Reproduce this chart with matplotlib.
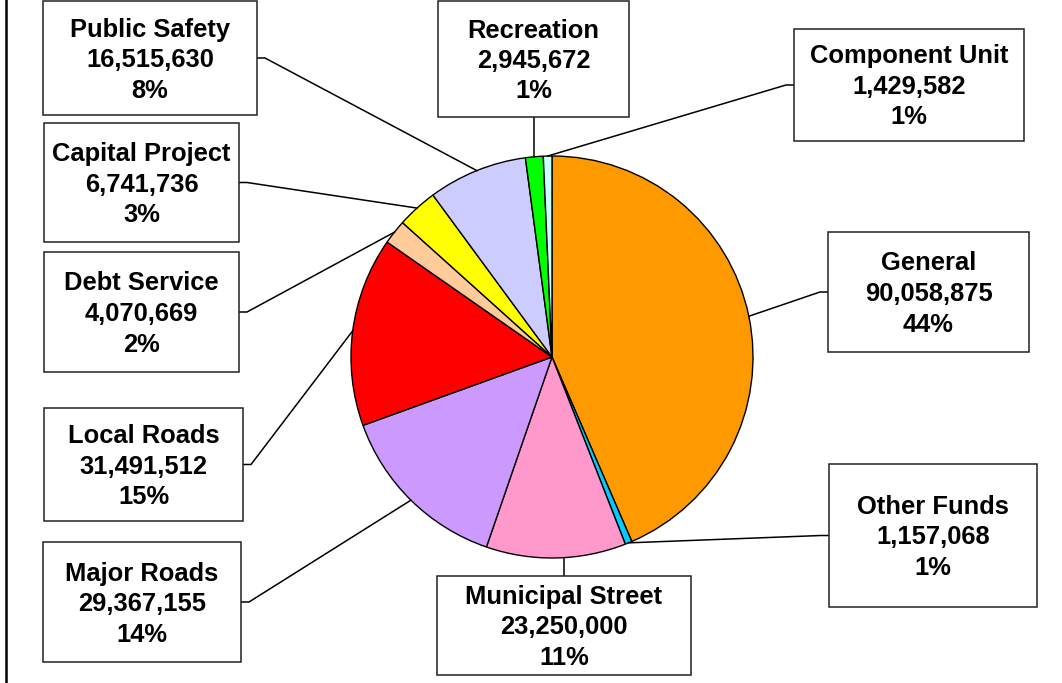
import numpy as np
import matplotlib.pyplot as plt
from matplotlib.patches import Rectangle

funds = ["General", "Other Funds", "Municipal Street", "Major Roads", "Local Roads",
         "Debt Service", "Capital Project", "Public Safety", "Recreation", "Component Unit"]
amounts = [90058875, 1157068, 23250000, 29367155, 31491512,
           4070669, 6741736, 16515630, 2945672, 1429582]
colors = ["#FF9900", "#00CCFF", "#FF99CC", "#CC99FF", "#FF0000",
          "#FFCC99", "#FFFF00", "#CCCCFF", "#00FF00", "#CCFFFF"]

# label boxes in pixels from top-left: left, top, right, bottom, edge the leader enters
boxes = {
    "General":          (828, 232, 1029, 352, "left"),
    "Other Funds":      (829, 464, 1037, 607, "left"),
    "Municipal Street": (437, 576, 691, 675, "top"),
    "Major Roads":      (43, 542, 241, 662, "right"),
    "Local Roads":      (44, 408, 243, 521, "right"),
    "Debt Service":     (44, 252, 239, 372, "right"),
    "Capital Project":  (44, 123, 239, 242, "right"),
    "Public Safety":    (43, 1, 257, 115, "right"),
    "Recreation":       (438, 1, 629, 117, "bottom"),
    "Component Unit":   (794, 29, 1024, 141, "left"),
}

W, H = 1062, 683
plt.rcParams['font.family'] = ['Liberation Sans', 'DejaVu Sans']

fig = plt.figure(figsize=(W / 100, H / 100), dpi=100)
ax = fig.add_axes([0, 0, 1, 1])

cx, cy, r = 552, H - 357, 201
wedges, _ = ax.pie(amounts, colors=colors, startangle=90, counterclock=False,
                   center=(cx, cy), radius=r,
                   wedgeprops=dict(edgecolor='black', linewidth=1.0))
ax.set_xlim(0, W)
ax.set_ylim(0, H)
ax.set_aspect('equal')
ax.axis('off')

total = sum(amounts)
stub = 8
for name, val, w in zip(funds, amounts, wedges):
    left, top, right, bottom, side = boxes[name]
    y0, y1 = H - bottom, H - top
    ax.add_patch(Rectangle((left, y0), right - left, y1 - y0, facecolor='white',
                           edgecolor='#222222', linewidth=1.1, zorder=3))

    mid = np.deg2rad((w.theta1 + w.theta2) / 2)
    px, py = cx + r * np.cos(mid), cy + r * np.sin(mid)
    ym = (y0 + y1) / 2
    if side == "left":
        xs, ys = [px, left - stub, left], [py, ym, ym]
    elif side == "right":
        xs, ys = [px, right + stub, right], [py, ym, ym]
    else:
        bx = (left + right) / 2
        dy = np.sqrt(r ** 2 - (bx - cx) ** 2)
        if side == "bottom":
            xs, ys = [bx, bx], [cy + dy, y0]
        else:
            xs, ys = [bx, bx], [cy - dy, y1]
    ax.plot(xs, ys, color='black', linewidth=1.1, zorder=2)

    lines = [name, f"{val:,}", f"{round(100 * val / total)}%"]
    for i, s in enumerate(lines):
        ax.text((left + right) / 2, ym - 9 - (i - 1) * 30.5, s, ha='center',
                va='baseline', fontsize=18.4, fontweight='bold', zorder=4)

ax.plot([6, 6], [0, H], color='black', linewidth=1.8)

fig.savefig('out.png', dpi=100)
